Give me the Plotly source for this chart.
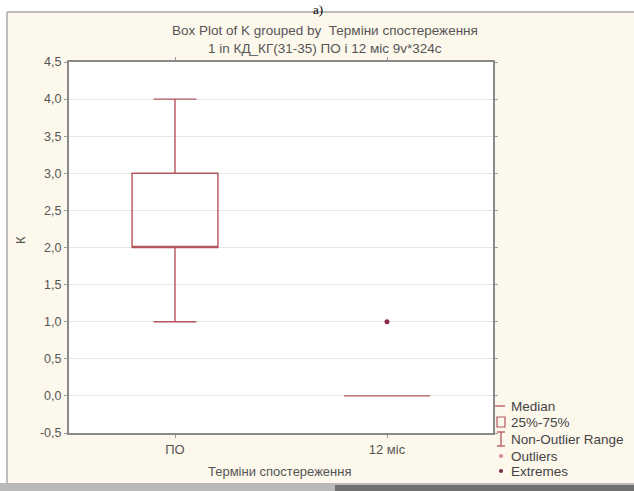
import plotly.graph_objects as go

# ---- data ----
categories = ["ПО", "12 міс"]
q1_vals = [2.0, 0.0]
median_vals = [2.0, 0.0]
q3_vals = [3.0, 0.0]
lower_whisker = [1.0, 0.0]
upper_whisker = [4.0, 0.0]
outlier_x = ["12 міс"]
outlier_y = [1.0]
ytick_vals = [-0.5, 0.0, 0.5, 1.0, 1.5, 2.0, 2.5, 3.0, 3.5, 4.0, 4.5]
ytick_text = ["-0,5", "0,0", "0,5", "1,0", "1,5", "2,0", "2,5", "3,0", "3,5", "4,0", "4,5"]
legend_labels = ["Median", "25%-75%", "Non-Outlier Range", "Outliers", "Extremes"]
title_line1 = "Box Plot of K grouped by  Терміни спостереження"
title_line2 = "1 in КД_КГ(31-35) ПО і 12 міс 9v*324c"
x_title = "Терміни спостереження"
y_title = "К"

# ---- layout geometry ----
W, H = 634, 491
L, R, T, B = 69, 493, 62, 433
FONT = "Liberation Sans, Arial, sans-serif"
BOXC = "#b4545e"
TXT = "#555555"
CREAM = "#fdf8ec"


def X(px):
    return (px - L) / (R - L)


def Y(py):
    return (B - py) / (B - T)


fig = go.Figure()
fig.add_trace(go.Box(
    x=categories, q1=q1_vals, median=median_vals, q3=q3_vals,
    lowerfence=lower_whisker, upperfence=upper_whisker,
    width=0.405, whiskerwidth=0.5, boxpoints=False,
    line=dict(color=BOXC, width=1.4), fillcolor="rgba(255,255,255,0)",
    showlegend=False, hoverinfo="skip",
))
fig.add_trace(go.Scatter(
    x=outlier_x, y=outlier_y, mode="markers",
    marker=dict(color="#8a2d48", size=5), showlegend=False, hoverinfo="skip",
))

shapes = []
annotations = []
# outer white strips and window borders
shapes.append(dict(type="rect", xref="paper", yref="paper", x0=X(0), x1=X(W), y0=Y(12), y1=Y(0),
                   fillcolor="white", line=dict(width=0), layer="below"))
shapes.append(dict(type="rect", xref="paper", yref="paper", x0=X(0), x1=X(7), y0=Y(W), y1=Y(0),
                   fillcolor="white", line=dict(width=0), layer="below"))
shapes.append(dict(type="line", xref="paper", yref="paper", x0=X(7), x1=X(W), y0=Y(12), y1=Y(12),
                   line=dict(color="#a8a8a8", width=1.5)))
shapes.append(dict(type="line", xref="paper", yref="paper", x0=X(7), x1=X(7), y0=Y(12), y1=Y(483),
                   line=dict(color="#a8a8a8", width=1.5)))
# bottom toolbar strip
shapes.append(dict(type="rect", xref="paper", yref="paper", x0=X(0), x1=X(W), y0=Y(H), y1=Y(483),
                   fillcolor="#b9b9b9", line=dict(width=0)))
shapes.append(dict(type="rect", xref="paper", yref="paper", x0=X(335), x1=X(W), y0=Y(H), y1=Y(485),
                   fillcolor="#707070", line=dict(width=0)))

# legend symbols
sx = 501
shapes.append(dict(type="line", xref="paper", yref="paper", x0=X(495), x1=X(505), y0=Y(406), y1=Y(406),
                   line=dict(color=BOXC, width=1.3)))
shapes.append(dict(type="rect", xref="paper", yref="paper", x0=X(497), x1=X(505), y0=Y(427), y1=Y(417),
                   line=dict(color=BOXC, width=1.2), fillcolor="rgba(0,0,0,0)"))
shapes.append(dict(type="line", xref="paper", yref="paper", x0=X(sx), x1=X(sx), y0=Y(446), y1=Y(432),
                   line=dict(color=BOXC, width=1.3)))
for cy in (432, 446):
    shapes.append(dict(type="line", xref="paper", yref="paper", x0=X(497), x1=X(505), y0=Y(cy), y1=Y(cy),
                       line=dict(color=BOXC, width=1.3)))
shapes.append(dict(type="circle", xref="paper", yref="paper", x0=X(sx - 2), x1=X(sx + 2), y0=Y(458), y1=Y(454),
                   fillcolor="#d68a9a", line=dict(width=0)))
shapes.append(dict(type="circle", xref="paper", yref="paper", x0=X(sx - 2), x1=X(sx + 2), y0=Y(473), y1=Y(469),
                   fillcolor="#7a2a45", line=dict(width=0)))
legend_y = [406, 422, 439, 456, 471]
for lab, ly in zip(legend_labels, legend_y):
    annotations.append(dict(text=lab, xref="paper", yref="paper", x=X(509), y=Y(ly),
                            xanchor="left", yanchor="middle", showarrow=False,
                            font=dict(family=FONT, size=13.5, color="#444444")))

# titles
annotations.append(dict(text=title_line1, xref="paper", yref="paper", x=X(325), y=Y(31),
                        xanchor="center", yanchor="middle", showarrow=False,
                        font=dict(family=FONT, size=13.5, color=TXT)))
annotations.append(dict(text=title_line2, xref="paper", yref="paper", x=X(325), y=Y(48),
                        xanchor="center", yanchor="middle", showarrow=False,
                        font=dict(family=FONT, size=13.5, color=TXT)))
annotations.append(dict(text=x_title, xref="paper", yref="paper", x=X(280), y=Y(471),
                        xanchor="center", yanchor="middle", showarrow=False,
                        font=dict(family=FONT, size=13, color=TXT)))
annotations.append(dict(text=y_title, xref="paper", yref="paper", x=X(20), y=Y(240),
                        xanchor="center", yanchor="middle", showarrow=False, textangle=-90,
                        font=dict(family=FONT, size=13, color=TXT)))
annotations.append(dict(text="а)", xref="paper", yref="paper", x=X(318), y=Y(0),
                        xanchor="center", yanchor="top", showarrow=False,
                        font=dict(family="Liberation Serif, serif", size=13, color="#000000")))

fig.update_layout(
    width=W, height=H,
    margin=dict(l=L, r=W - R, t=T, b=H - B, pad=0),
    paper_bgcolor=CREAM, plot_bgcolor="white",
    shapes=shapes, annotations=annotations, showlegend=False,
    font=dict(family=FONT, size=13, color=TXT),
)
fig.update_xaxes(
    type="category", range=[-0.5, 1.5], showgrid=False, zeroline=False,
    showline=True, linecolor="#8a8a8a", linewidth=2, mirror="ticks",
    ticks="outside", ticklen=3, tickcolor="#9a9a9a",
    tickfont=dict(family=FONT, size=13, color=TXT),
)
fig.update_yaxes(
    range=[-0.5, 4.5], tickvals=ytick_vals, ticktext=ytick_text,
    showgrid=True, gridcolor="#e6e6e6", gridwidth=1, zeroline=False,
    showline=True, linecolor="#8a8a8a", linewidth=2, mirror="ticks",
    ticks="outside", ticklen=3, tickcolor="#9a9a9a",
    tickfont=dict(family=FONT, size=12.5, color=TXT),
)

fig.write_html("out.html")
